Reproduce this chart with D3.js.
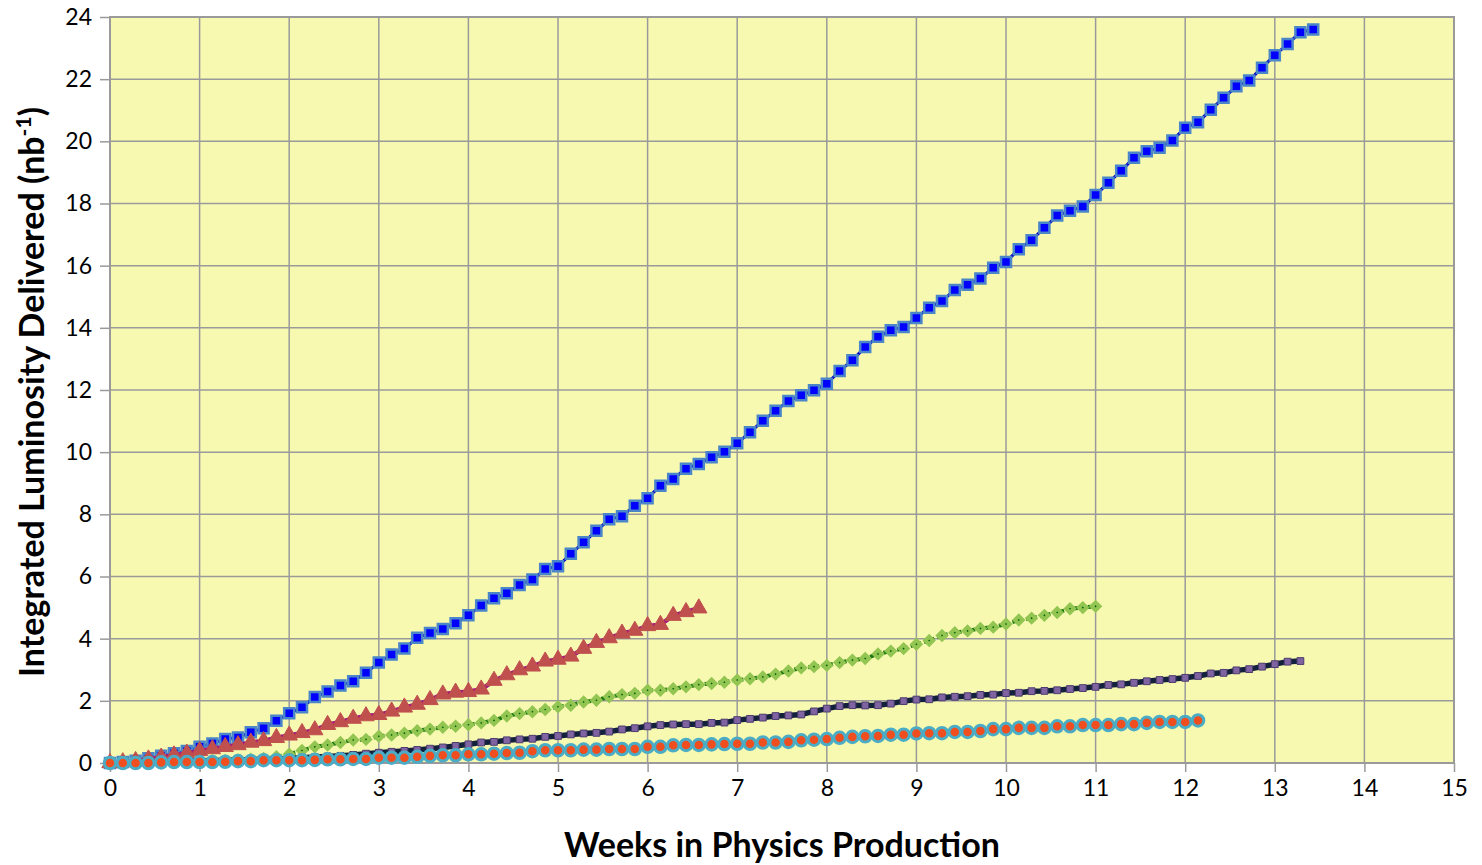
<!DOCTYPE html>
<html>
<head>
<meta charset="utf-8">
<script src="https://cdn.jsdelivr.net/npm/d3@7"></script>
<style>
  html, body { margin: 0; padding: 0; background: #fff; }
  #chart { width: 1482px; height: 865px; }
  text { font-family: Lato, "Open Sans", sans-serif; fill: #000; }
</style>
</head>
<body>
<div id="chart"></div>
<script>
// ---- data: one value per day, x = day / 7 (weeks) ----
const xTicks = d3.range(0, 16);
const yTicks = d3.range(0, 25, 2);

const blueVals = [
  0, 0.03, 0.07, 0.15, 0.23, 0.31, 0.39, 0.52, 0.63, 0.77,
  0.82, 0.99, 1.12, 1.36, 1.6, 1.79, 2.12, 2.3, 2.49, 2.63,
  2.9, 3.23, 3.49, 3.68, 4.03, 4.18, 4.31, 4.5, 4.75, 5.07,
  5.3, 5.46, 5.73, 5.9, 6.24, 6.33, 6.73, 7.1, 7.47, 7.84,
  7.94, 8.28, 8.52, 8.92, 9.14, 9.47, 9.62, 9.84, 10.01, 10.29,
  10.64, 11.01, 11.33, 11.65, 11.83, 11.99, 12.2, 12.61, 12.96, 13.38,
  13.71, 13.92, 14.03, 14.32, 14.65, 14.86, 15.22, 15.39, 15.59, 15.93,
  16.12, 16.53, 16.82, 17.22, 17.61, 17.77, 17.9, 18.27, 18.67, 19.05,
  19.47, 19.68, 19.79, 20.03, 20.44, 20.61, 21.02, 21.4, 21.77, 21.96,
  22.37, 22.77, 23.13, 23.51, 23.6
];

const redVals = [
  0, 0.03, 0.07, 0.12, 0.18, 0.25, 0.31, 0.39, 0.45, 0.52,
  0.58, 0.66, 0.71, 0.81, 0.89, 0.97, 1.06, 1.23, 1.32, 1.43,
  1.51, 1.55, 1.66, 1.79, 1.88, 2.03, 2.21, 2.27, 2.29, 2.37,
  2.65, 2.83, 2.99, 3.11, 3.27, 3.33, 3.43, 3.68, 3.87, 4.02,
  4.17, 4.26, 4.41, 4.45, 4.74, 4.86, 4.98
];

const greenVals = [
  0, 0, 0.01, 0.02, 0.03, 0.04, 0.05, 0.06, 0.07, 0.08,
  0.1, 0.12, 0.15, 0.2, 0.28, 0.4, 0.52, 0.58, 0.66, 0.74,
  0.76, 0.86, 0.9, 0.96, 1.04, 1.09, 1.15, 1.18, 1.23, 1.29,
  1.37, 1.51, 1.59, 1.65, 1.72, 1.81, 1.86, 1.96, 2.02, 2.13,
  2.2, 2.24, 2.34, 2.34, 2.39, 2.45, 2.52, 2.56, 2.6, 2.67,
  2.71, 2.77, 2.86, 2.96, 3.06, 3.1, 3.14, 3.23, 3.31, 3.36,
  3.51, 3.6, 3.68, 3.82, 3.94, 4.1, 4.19, 4.25, 4.33, 4.37,
  4.47, 4.6, 4.66, 4.75, 4.84, 4.96, 5.0, 5.04
];

const purpleVals = [
  0, 0.01, 0.02, 0.03, 0.04, 0.05, 0.06, 0.07, 0.08, 0.09,
  0.1, 0.11, 0.12, 0.13, 0.15, 0.17, 0.19, 0.21, 0.23, 0.26,
  0.3, 0.33, 0.36, 0.39, 0.42, 0.46, 0.5, 0.55, 0.6, 0.66,
  0.68, 0.73, 0.76, 0.78, 0.84, 0.87, 0.92, 0.95, 0.97, 1.01,
  1.08, 1.12, 1.18, 1.22, 1.24, 1.25, 1.25, 1.29, 1.3, 1.38,
  1.42, 1.46, 1.51, 1.53, 1.56, 1.66, 1.75, 1.83, 1.86, 1.85,
  1.86, 1.91, 1.99, 2.04, 2.05, 2.11, 2.13, 2.15, 2.19, 2.2,
  2.25, 2.26, 2.31, 2.32, 2.34, 2.38, 2.41, 2.45, 2.51, 2.53,
  2.58, 2.63, 2.67, 2.7, 2.74, 2.8, 2.88, 2.9, 2.98, 3.02,
  3.1, 3.18, 3.26, 3.28
];

const cyanVals = [
  0, 0, 0, 0, 0.02, 0.03, 0.03, 0.03, 0.03, 0.04,
  0.06, 0.06, 0.09, 0.09, 0.09, 0.09, 0.1, 0.12, 0.12, 0.13,
  0.13, 0.17, 0.17, 0.17, 0.2, 0.23, 0.25, 0.25, 0.28, 0.28,
  0.3, 0.32, 0.33, 0.38, 0.41, 0.41, 0.41, 0.43, 0.43, 0.45,
  0.45, 0.45, 0.52, 0.52, 0.57, 0.58, 0.58, 0.6, 0.61, 0.62,
  0.62, 0.66, 0.66, 0.68, 0.73, 0.75, 0.77, 0.81, 0.84, 0.86,
  0.87, 0.91, 0.91, 0.95, 0.96, 0.96, 1.0, 1.0, 1.03, 1.09,
  1.09, 1.13, 1.13, 1.13, 1.18, 1.18, 1.22, 1.22, 1.22, 1.25,
  1.25, 1.29, 1.32, 1.32, 1.32, 1.37
];

class LumiChart {
  constructor(id) {
    this.id = id;
    this.initSVG();
    this.initScales();
    this.drawGrid();
    this.drawAxes();
    this.drawSeries();
  }

  initSVG() {
    const div = d3.select(`#${this.id}`);
    this.width  = 1482;
    this.height = 865;
    this.margin = { top: 17, right: 28, bottom: 102, left: 110 };
    this.innerW = this.width  - this.margin.left - this.margin.right;
    this.innerH = this.height - this.margin.top  - this.margin.bottom;

    this.svg = div.append("svg")
      .attr("width",  this.width)
      .attr("height", this.height);

    this.g = this.svg.append("g")
      .attr("transform", `translate(${this.margin.left},${this.margin.top})`);
  }

  initScales() {
    this.x = d3.scaleLinear().domain([0, 15]).range([0, this.innerW]);
    this.y = d3.scaleLinear().domain([0, 24]).range([this.innerH, 0]);
  }

  drawGrid() {
    this.g.append("rect")
      .attr("width", this.innerW)
      .attr("height", this.innerH)
      .attr("fill", "#f7f9b1");

    this.g.append("g")
      .selectAll("line")
      .data(xTicks)
      .join("line")
      .attr("x1", d => this.x(d)).attr("x2", d => this.x(d))
      .attr("y1", 0).attr("y2", this.innerH)
      .attr("stroke", "#9a9a9a").attr("stroke-width", 1.5);

    this.g.append("g")
      .selectAll("line")
      .data(yTicks)
      .join("line")
      .attr("y1", d => this.y(d)).attr("y2", d => this.y(d))
      .attr("x1", 0).attr("x2", this.innerW)
      .attr("stroke", "#9a9a9a").attr("stroke-width", 1.5);

    this.g.append("rect")
      .attr("width", this.innerW)
      .attr("height", this.innerH)
      .attr("fill", "none")
      .attr("stroke", "#9a9a9a")
      .attr("stroke-width", 2);
  }

  drawAxes() {
    const xAxis = d3.axisBottom(this.x).tickValues(xTicks).tickSize(9).tickPadding(8);
    const yAxis = d3.axisLeft(this.y).tickValues(yTicks).tickSize(10).tickPadding(8);

    const gx = this.g.append("g")
      .attr("transform", `translate(0,${this.innerH})`)
      .call(xAxis);
    const gy = this.g.append("g").call(yAxis);

    [gx, gy].forEach(a => {
      a.select(".domain").remove();
      a.selectAll(".tick line").attr("stroke", "#9a9a9a").attr("stroke-width", 1.5);
      a.selectAll(".tick text")
        .style("font-family", "Lato, sans-serif")
        .style("font-size", "23px")
        .attr("fill", "#111");
    });

    // x title
    this.svg.append("text")
      .attr("x", 782)
      .attr("y", 857)
      .attr("text-anchor", "middle")
      .style("font-size", "34px")
      .style("font-weight", "bold")
      .text("Weeks in Physics Production");

    // y title with superscript
    const yt = this.svg.append("text")
      .attr("transform", "translate(44,392) rotate(-90)")
      .attr("text-anchor", "middle")
      .style("font-size", "34px")
      .style("font-weight", "bold");
    yt.append("tspan").text("Integrated Luminosity Delivered (nb");
    yt.append("tspan").attr("dy", -13).style("font-size", "21px").text("-1");
    yt.append("tspan").attr("dy", 13).text(")");
  }

  drawSeries() {
    const toPts = vals => vals.map((v, i) => ({ x: i / 7, y: v }));
    const line = d3.line().x(d => this.x(d.x)).y(d => this.y(d.y));

    const series = [
      { vals: blueVals, line: "#0000c8", lw: 3, dash: null,
        sym: d3.symbolSquare, size: 100, fill: "#0000ff", stroke: "#4a86c8", sw: 2.5, rot: 0 },
      { vals: redVals, line: "#a3197c", lw: 4.5, dash: null,
        sym: d3.symbolTriangle, size: 115, fill: "#c0504d", stroke: "#c0504d", sw: 1, rot: 0 },
      { vals: greenVals, line: "#1f7a12", lw: 4, dash: "4,3",
        sym: d3.symbolSquare, size: 30, fill: "#006000", stroke: "#93c552", sw: 4, rot: 45 },
      { vals: purpleVals, line: "#14213d", lw: 5.5, dash: null,
        sym: d3.symbolSquare, size: 46, fill: "#8064a2", stroke: "#4b3d6e", sw: 1, rot: 0 },
      { vals: cyanVals, line: "#4bacc6", lw: 2, dash: null,
        sym: d3.symbolCircle, size: 105, fill: "#f04e1e", stroke: "#4bacc6", sw: 3, rot: 0 }
    ];

    series.forEach(s => {
      const pts = toPts(s.vals);
      const sg = this.g.append("g");
      sg.append("path")
        .datum(pts)
        .attr("d", line)
        .attr("fill", "none")
        .attr("stroke", s.line)
        .attr("stroke-width", s.lw)
        .attr("stroke-dasharray", s.dash);
      const symbol = d3.symbol().type(s.sym).size(s.size);
      sg.selectAll("path.m")
        .data(pts)
        .join("path")
        .attr("class", "m")
        .attr("d", symbol)
        .attr("transform", d => `translate(${this.x(d.x)},${this.y(d.y)}) rotate(${s.rot})`)
        .attr("fill", s.fill)
        .attr("stroke", s.stroke)
        .attr("stroke-width", s.sw);
    });
  }
}

new LumiChart("chart");
</script>
</body>
</html>
